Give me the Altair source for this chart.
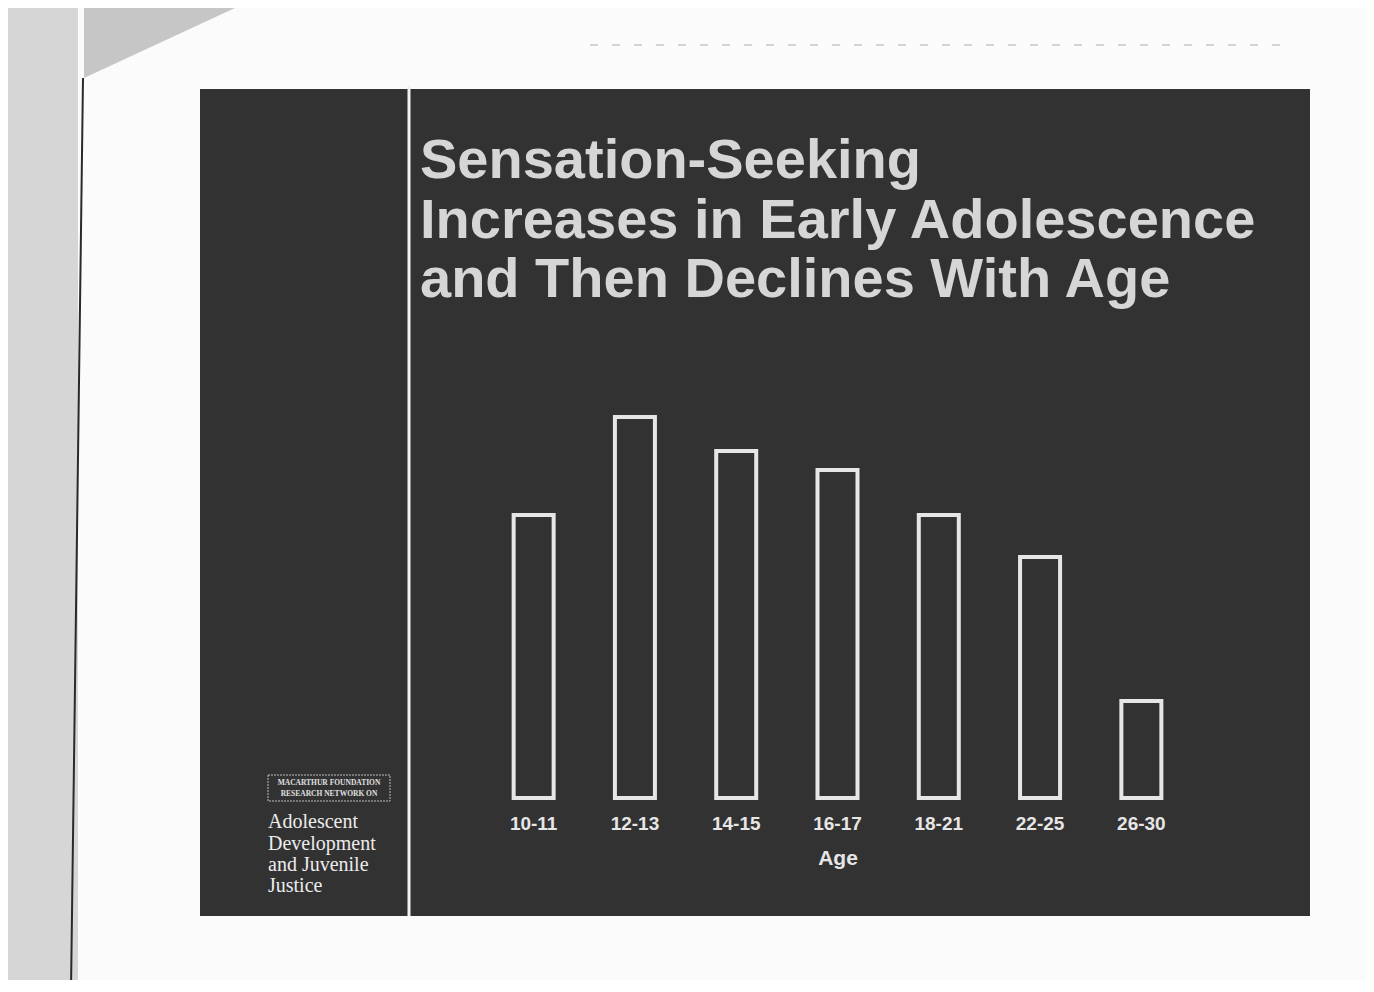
import altair as alt
import pandas as pd

# ---- data ----
ages = ["10-11", "12-13", "14-15", "16-17", "18-21", "22-25", "26-30"]
scores = [283, 381, 347, 328, 283, 241, 97]   # relative bar heights (no y axis shown)

title_lines = ["Sensation-Seeking",
               "Increases in Early Adolescence",
               "and Then Declines With Age"]
logo_small = ["MACARTHUR FOUNDATION", "RESEARCH NETWORK ON"]
logo_lines = ["Adolescent", "Development", "and Juvenile", "Justice"]
x_title = "Age"

df = pd.DataFrame({"age": ages, "score": scores})
one = pd.DataFrame({"k": [0]})

DARK = "#333233"
LIGHT = "#e6e6e6"

W, H = 709, 400
PL, PT = 475, 390

def px(x):  # page x -> view x
    return x - 8 - PL

def py(y):  # page y -> view y
    return y - 8 - PT

base = alt.Chart(one)

gray_strip = base.mark_rect(color="#d6d6d6").encode(
    x=alt.value(px(8)), x2=alt.value(px(78)),
    y=alt.value(py(8)), y2=alt.value(py(990)))
fold = base.mark_point(
    shape="M-1,-0.4636 L1,-0.4636 L-1,0.4636 Z", filled=True, opacity=1,
    color="#c6c6c6", size=151 * 151).encode(
    x=alt.value(px(159.5)), y=alt.value(py(43)))
paper_edge = base.mark_rule(color="#2a2a2a", strokeWidth=2).encode(
    x=alt.value(px(83)), x2=alt.value(px(71)),
    y=alt.value(py(78)), y2=alt.value(py(990)))
scan_marks = base.mark_rule(color="#c8c8c8", strokeWidth=1.5,
                            strokeDash=[8, 14]).encode(
    x=alt.value(px(590)), x2=alt.value(px(1290)),
    y=alt.value(py(45)))
slide = base.mark_rect(color=DARK).encode(
    x=alt.value(px(200)), x2=alt.value(px(1310)),
    y=alt.value(py(89)), y2=alt.value(py(916)))
divider = base.mark_rule(color="#f2f2f2", strokeWidth=3).encode(
    x=alt.value(px(409)), y=alt.value(py(86)), y2=alt.value(py(916)))

logo_box = base.mark_rect(fill=DARK, stroke="#bdbdbd", strokeWidth=1,
                          strokeDash=[2, 1]).encode(
    x=alt.value(px(268)), x2=alt.value(px(390)),
    y=alt.value(py(775)), y2=alt.value(py(801)))
logo_small_txt = [
    base.mark_text(text=t, font="Liberation Serif", fontSize=7.5, fontWeight="bold",
                   color="#e0e0e0", align="center", baseline="middle").encode(
        x=alt.value(px(329)), y=alt.value(py(yy)))
    for t, yy in zip(logo_small, [783, 794])
]
logo_txt = [
    base.mark_text(text=t, font="Liberation Serif", fontSize=20,
                   color="#ececec", align="left", baseline="alphabetic").encode(
        x=alt.value(px(268)), y=alt.value(py(yy)))
    for t, yy in zip(logo_lines, [828, 850, 871, 892])
]

title_txt = [
    base.mark_text(text=t, font="Liberation Sans", fontSize=56, fontWeight="bold",
                   color="#d6d6d6", align="left", baseline="alphabetic").encode(
        x=alt.value(px(420)), y=alt.value(py(yy)))
    for t, yy in zip(title_lines, [178, 238, 297])
]

bars = alt.Chart(df).mark_bar(fill=DARK, stroke=LIGHT, strokeWidth=4).encode(
    x=alt.X("age:N", sort=ages, title=x_title,
            scale=alt.Scale(paddingInner=0.605, paddingOuter=0.3025),
            axis=alt.Axis(labelAngle=0, domain=False, ticks=False, tickSize=0,
                          labelPadding=16, labelFont="Liberation Sans",
                          labelFontSize=19, labelFontWeight="bold",
                          labelColor=LIGHT, titleFont="Liberation Sans",
                          titleFontSize=21, titleFontWeight="bold",
                          titleColor=LIGHT, titlePadding=14, zindex=2)),
    y=alt.Y("score:Q", scale=alt.Scale(domain=[0, 400]), axis=None),
)

chart = alt.layer(
    gray_strip, fold, paper_edge, scan_marks, slide, divider, logo_box,
    *logo_small_txt, *logo_txt, *title_txt, bars
).properties(
    width=W, height=H,
    autosize=alt.AutoSizeParams(type="none"),
    padding={"left": PL, "top": PT, "right": 1358 - PL - W, "bottom": 972 - PT - H},
    background="#fbfbfb",
).configure_view(stroke=None)

chart.save("out.html", embed_options={"renderer": "svg", "actions": False})
